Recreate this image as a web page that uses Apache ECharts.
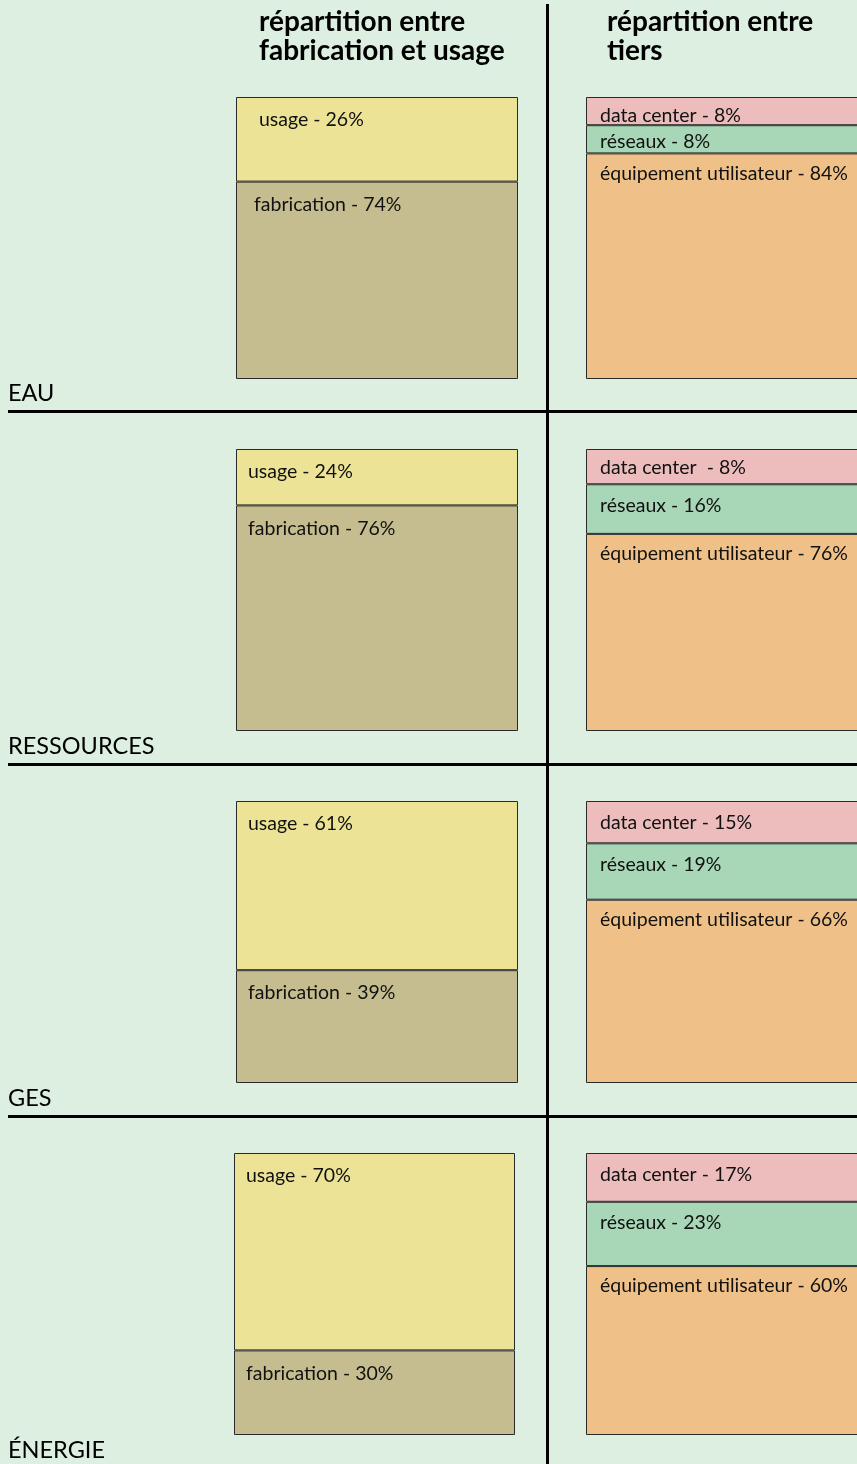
<!DOCTYPE html>
<html><head><meta charset="utf-8">
<script src="https://cdn.jsdelivr.net/npm/echarts@6/dist/echarts.min.js"></script>
<style>html,body{margin:0;padding:0;background:#ddefe0}#c{width:857px;height:1464px}</style>
</head><body><div id="c"></div>
<script>
// Row names
const rows = ['EAU', 'RESSOURCES', 'GES', 'ÉNERGIE'];
// Percentages as printed in the labels
const usage = [26, 24, 61, 70];
const fabrication = [74, 76, 39, 30];
const dataCenter = [8, 8, 15, 17];
const reseaux = [8, 16, 19, 23];
const equipement = [84, 76, 66, 60];
// Box shares as drawn in the reference (%)
const usageDrawn = [30, 20, 60, 70];
const fabricationDrawn = [70, 80, 40, 30];
const dataCenterDrawn = [10, 12.5, 15, 17.3];
const reseauxDrawn = [10, 17.6, 20, 22.8];
const equipementDrawn = [80, 69.9, 65, 59.9];
// Column titles
const titleLeft = ['répartition entre', 'fabrication et usage'];
const titleRight = ['répartition entre', 'tiers'];

const FONT = 'Lato, "Noto Sans", sans-serif';
const rowTop = [97, 449, 801, 1153];
const rowLabelY = [393, 746, 1098, 1450];
const leftX = [236, 236, 236, 234];
const leftW = [282, 282, 282, 281];
const BOXH = 282;

const grids = [], xAxes = [], yAxes = [], series = [];
function addBox(left, top, width, parts) {
  const gi = grids.length;
  grids.push({left: left, top: top, width: width, height: BOXH, outerBoundsMode: 'none', containLabel: false});
  xAxes.push({type: 'category', data: ['v'], gridIndex: gi, show: false});
  yAxes.push({type: 'value', min: 0, max: 100, inverse: true, gridIndex: gi, show: false});
  parts.forEach(p => {
    series.push({
      type: 'bar', xAxisIndex: gi, yAxisIndex: gi, stack: 's' + gi,
      barWidth: '100%', data: [p.v],
      itemStyle: {color: p.color, borderColor: '#2a2a2a', borderWidth: 1},
      label: {show: true, position: 'insideTopLeft', offset: p.off, formatter: p.text,
        color: '#111', fontSize: 19.5, fontFamily: FONT},
      silent: true
    });
  });
}
for (let i = 0; i < 4; i++) {
  addBox(leftX[i], rowTop[i], leftW[i], [
    {v: usageDrawn[i], color: '#ede396', text: 'usage - ' + usage[i] + '%', off: [i === 0 ? 18 : 7, 8]},
    {v: fabricationDrawn[i], color: '#c5bd8f', text: 'fabrication - ' + fabrication[i] + '%', off: [i === 0 ? 13 : 7, 8]}
  ]);
  addBox(586, rowTop[i], 290, [
    {v: dataCenterDrawn[i], color: '#edbdbd', text: (i === 1 ? 'data center  - ' : 'data center - ') + dataCenter[i] + '%', off: [9, i >= 2 ? 7 : 4]},
    {v: reseauxDrawn[i], color: '#a7d7b7', text: 'réseaux - ' + reseaux[i] + '%', off: [9, i === 0 ? 2 : 6]},
    {v: equipementDrawn[i], color: '#efc189', text: 'équipement utilisateur - ' + equipement[i] + '%', off: [9, 5]}
  ]);
}

const graphic = [];
graphic.push({type: 'rect', shape: {x: 546, y: 4, width: 3, height: 1460}, style: {fill: '#000'}, silent: true});
[410, 763, 1115].forEach(y => graphic.push({type: 'rect', shape: {x: 8, y: y, width: 849, height: 3}, style: {fill: '#000'}, silent: true}));
rows.forEach((r, i) => graphic.push({type: 'text', x: 8, y: rowLabelY[i], style: {text: r, font: '23.5px ' + FONT, fill: '#000', textVerticalAlign: 'middle'}}));
graphic.push({type: 'text', x: 259, y: 7, style: {text: titleLeft.join('\n'), font: 'bold 28px ' + FONT, fill: '#000', lineHeight: 29}});
graphic.push({type: 'text', x: 607, y: 7, style: {text: titleRight.join('\n'), font: 'bold 28px ' + FONT, fill: '#000', lineHeight: 29}});

const chart = echarts.init(document.getElementById('c'));
chart.setOption({
  backgroundColor: '#ddefe0',
  animation: false,
  grid: grids, xAxis: xAxes, yAxis: yAxes, series: series, graphic: graphic
});
</script></body></html>
